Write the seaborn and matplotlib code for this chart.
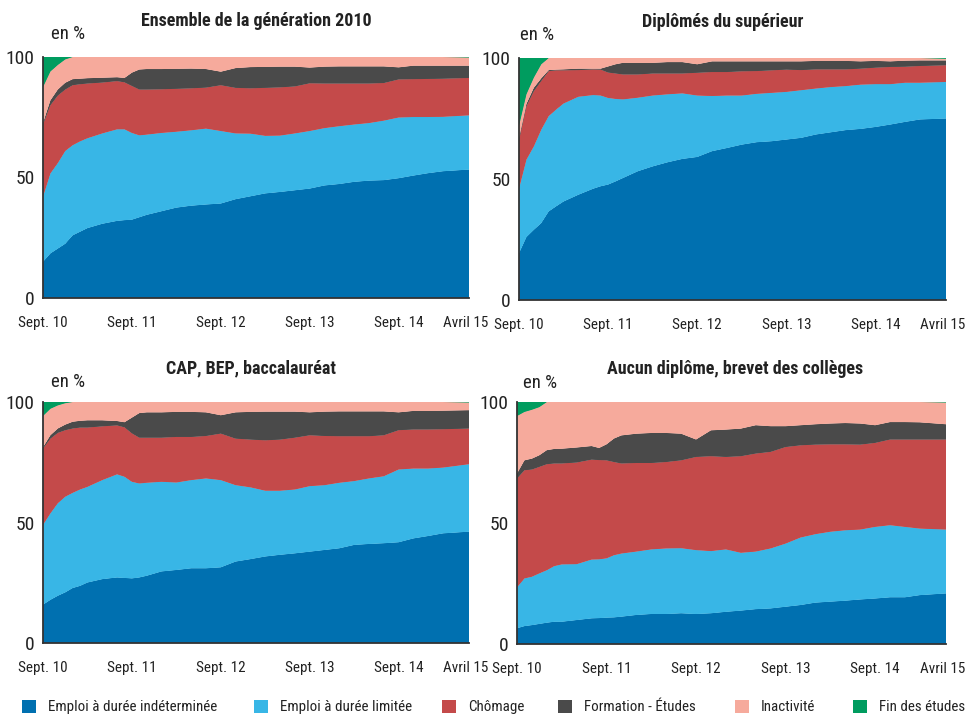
import numpy as np
import pandas as pd
import matplotlib
matplotlib.use("Agg")
import matplotlib.pyplot as plt
from matplotlib import font_manager as fm
from matplotlib.patches import Patch
import seaborn as sns
import seaborn.objects as so

# ---------------- data (shares in %) ----------------
months = [0, 1, 2, 3, 4, 5, 6, 8, 10, 11, 12, 13, 14, 16, 18, 20, 22, 24, 26, 28,
          30, 32, 34, 36, 38, 40, 42, 44, 46, 48, 50, 52, 54, 57.5]

statuts = ["Emploi à durée indéterminée", "Emploi à durée limitée", "Chômage",
           "Formation - Études", "Inactivité", "Fin des études"]
couleurs = ["#0070b0", "#38b6e6", "#c44a4a", "#4a4a4a", "#f6aa9c", "#009c5f"]

xtick_pos = [0, 12, 24, 36, 48, 57.0]
xtick_labels = ["Sept. 10", "Sept. 11", "Sept. 12", "Sept. 13", "Sept. 14", "Avril 15"]

# Ensemble de la génération 2010
ens_cdi = [15.0, 18.5, 20.5, 22.5, 26.0, 27.5, 29.0, 30.8, 32.0, 32.3, 32.5, 33.5, 34.5, 36.0, 37.5, 38.3, 38.8,
           39.2, 41.0, 42.2, 43.4, 44.0, 44.7, 45.4, 46.7, 47.3, 48.2, 48.7, 48.9, 49.7, 50.8, 51.8, 52.6, 53.3]
ens_cdd = [27.0, 33.2, 35.5, 38.5, 37.4, 37.5, 37.3, 37.5, 38.0, 37.7, 36.0, 34.0, 33.3, 32.5, 31.5, 31.3, 31.5,
           30.1, 27.3, 26.0, 23.9, 23.4, 23.6, 23.9, 23.8, 24.0, 23.8, 23.9, 24.7, 25.2, 24.3, 23.3, 22.6, 22.5]
ens_chom = [30.0, 28.3, 28.0, 25.5, 24.9, 23.7, 22.7, 21.1, 20.0, 19.5, 19.5, 19.0, 18.7, 18.1, 17.8, 17.4, 17.0,
            19.0, 18.9, 18.8, 19.9, 20.0, 19.5, 19.8, 18.5, 17.7, 17.0, 16.4, 15.6, 15.8, 15.7, 15.8, 15.8, 15.5]
ens_form = [0.6, 2.0, 2.5, 2.8, 2.5, 2.3, 2.2, 2.0, 1.6, 1.8, 5.5, 8.3, 8.5, 8.4, 8.3, 8.2, 7.7,
            5.6, 8.2, 8.8, 8.7, 8.6, 8.2, 6.5, 7.0, 7.1, 7.1, 7.1, 6.9, 5.0, 5.6, 5.5, 5.4, 5.1]
ens_inac = [14.9, 12.0, 10.2, 9.7, 9.2, 9.0, 8.8, 8.6, 8.4, 8.7, 6.5, 5.2, 5.0, 5.0, 4.9, 4.8, 5.0,
            6.1, 4.6, 4.2, 4.1, 4.0, 4.0, 4.4, 4.0, 3.9, 3.9, 3.9, 3.9, 4.3, 3.6, 3.6, 3.6, 3.4]
ens_fin = [12.5, 6.0, 3.3, 1.0, 0, 0, 0, 0, 0, 0, 0, 0, 0, 0, 0, 0, 0,
           0, 0, 0, 0, 0, 0, 0, 0, 0, 0, 0, 0, 0, 0, 0, 0, 0.2]

# Diplômés du supérieur
sup_cdi = [19.3, 26.0, 29.0, 31.8, 36.6, 38.7, 40.7, 43.5, 46.0, 47.0, 47.7, 49.0, 50.4, 53.2, 55.2, 56.9, 58.3,
           59.1, 61.5, 62.8, 64.2, 65.2, 65.6, 66.3, 67.0, 68.4, 69.3, 70.2, 70.7, 71.5, 72.5, 73.6, 74.6, 75.0]
sup_cdd = [26.7, 32.0, 34.5, 38.6, 39.4, 40.0, 40.5, 40.5, 38.7, 37.5, 35.8, 34.1, 32.5, 30.4, 29.3, 28.1, 27.1,
           25.4, 22.8, 21.7, 20.3, 20.0, 20.0, 19.7, 19.7, 19.0, 18.7, 18.2, 18.3, 17.7, 16.7, 16.2, 15.2, 15.1]
sup_chom = [20.0, 22.0, 22.8, 20.1, 18.6, 16.2, 13.7, 11.0, 10.6, 10.7, 10.5, 10.5, 10.3, 9.6, 9.1, 8.6, 8.2,
            9.4, 9.9, 9.7, 10.0, 9.4, 9.3, 9.2, 8.3, 7.9, 7.3, 6.9, 6.6, 6.8, 7.1, 6.6, 6.9, 6.9]
sup_form = [1.0, 1.0, 1.4, 1.1, 0.4, 0.3, 0.4, 0.6, 0.3, 0.4, 2.5, 3.8, 4.8, 4.8, 4.4, 4.7, 4.7,
            3.5, 4.4, 4.4, 4.1, 4.0, 3.7, 3.4, 3.6, 3.5, 3.5, 3.5, 3.0, 2.8, 2.3, 2.5, 2.3, 2.0]
sup_inac = [5.0, 4.0, 4.2, 5.8, 5.0, 4.8, 4.7, 4.4, 4.4, 4.4, 3.5, 2.6, 2.0, 2.0, 2.0, 1.7, 1.7,
            2.6, 1.4, 1.4, 1.4, 1.4, 1.4, 1.4, 1.4, 1.2, 1.2, 1.2, 1.4, 1.2, 1.4, 1.1, 1.0, 0.7]
sup_fin = [28.0, 15.0, 8.1, 2.6, 0, 0, 0, 0, 0, 0, 0, 0, 0, 0, 0, 0, 0,
           0, 0, 0, 0, 0, 0, 0, 0, 0, 0, 0, 0, 0, 0, 0, 0, 0.3]

# CAP, BEP, baccalauréat
cap_cdi = [15.9, 17.9, 19.6, 21.0, 22.8, 23.7, 25.1, 26.5, 27.2, 27.0, 26.8, 27.2, 27.9, 29.7, 30.3, 31.0, 31.0,
           31.4, 33.8, 34.8, 35.9, 36.6, 37.2, 37.9, 38.6, 39.3, 40.7, 41.1, 41.4, 41.8, 43.4, 44.4, 45.5, 46.2]
cap_cdd = [33.1, 35.9, 38.4, 39.7, 39.5, 40.0, 39.7, 41.1, 42.8, 42.0, 40.1, 39.0, 38.6, 37.2, 36.3, 36.6, 37.3,
           36.2, 31.7, 29.8, 27.3, 26.6, 26.5, 27.2, 26.9, 27.2, 26.5, 27.2, 27.8, 30.2, 29.0, 28.0, 27.3, 28.0]
cap_chom = [31.7, 31.0, 29.2, 27.6, 26.7, 25.7, 24.6, 22.3, 20.3, 20.5, 20.1, 19.0, 18.7, 18.3, 18.9, 17.9, 17.6,
            19.3, 19.3, 19.8, 20.9, 21.2, 21.5, 21.1, 20.4, 19.3, 18.6, 17.5, 17.0, 16.3, 16.2, 16.2, 15.9, 14.8]
cap_form = [0.5, 1.4, 1.8, 2.3, 2.8, 2.8, 3.0, 2.5, 1.8, 2.1, 6.5, 10.2, 10.5, 10.5, 10.4, 10.4, 9.8,
            7.6, 10.9, 11.5, 11.9, 11.6, 10.8, 9.5, 10.1, 10.3, 10.3, 10.3, 9.9, 7.4, 7.7, 7.7, 7.7, 7.6]
cap_inac = [13.0, 11.0, 9.6, 8.9, 8.2, 7.8, 7.6, 7.6, 7.9, 8.4, 6.5, 4.6, 4.3, 4.3, 4.1, 4.1, 4.3,
            5.5, 4.3, 4.1, 4.0, 4.0, 4.0, 4.3, 4.0, 3.9, 3.9, 3.9, 3.9, 4.3, 3.7, 3.7, 3.6, 3.2]
cap_fin = [5.8, 2.8, 1.4, 0.5, 0, 0, 0, 0, 0, 0, 0, 0, 0, 0, 0, 0, 0,
           0, 0, 0, 0, 0, 0, 0, 0, 0, 0, 0, 0, 0, 0, 0, 0, 0.2]

# Aucun diplôme, brevet des collèges
auc_cdi = [6.5, 7.4, 7.8, 8.3, 8.8, 9.2, 9.2, 9.9, 10.6, 10.7, 10.9, 11.0, 11.3, 12.0, 12.4, 12.4, 12.7,
           12.4, 12.7, 13.3, 13.8, 14.4, 14.7, 15.4, 16.1, 17.1, 17.5, 17.9, 18.4, 18.8, 19.3, 19.3, 20.2, 20.9]
auc_cdd = [16.9, 19.7, 20.0, 20.9, 21.7, 23.0, 23.7, 23.1, 24.3, 24.3, 24.5, 25.7, 26.1, 26.2, 26.7, 27.1, 26.9,
           26.4, 25.7, 25.8, 23.9, 23.8, 24.8, 26.1, 27.9, 28.3, 28.9, 29.1, 28.9, 29.6, 29.8, 29.1, 27.5, 26.4]
auc_chom = [45.0, 44.7, 44.3, 44.0, 43.8, 42.4, 41.7, 42.0, 41.3, 41.0, 40.5, 38.5, 37.2, 36.6, 35.7, 35.7, 36.3,
            38.5, 39.2, 38.2, 39.9, 40.5, 39.9, 39.9, 38.1, 37.0, 36.1, 35.5, 35.1, 34.7, 35.4, 36.1, 36.8, 37.2]
auc_form = [2.0, 4.1, 4.5, 4.8, 5.8, 6.0, 6.1, 6.2, 5.6, 5.0, 6.6, 9.7, 11.6, 12.1, 12.4, 12.0, 11.0,
            7.2, 10.7, 11.3, 11.4, 11.7, 10.6, 8.6, 8.3, 8.4, 8.6, 8.8, 8.7, 7.3, 7.2, 7.2, 7.1, 6.3]
auc_inac = [23.8, 20.0, 20.2, 19.9, 19.9, 19.4, 19.3, 18.8, 18.2, 19.0, 17.5, 15.1, 13.8, 13.1, 12.8, 12.8, 13.1,
            15.5, 11.7, 11.4, 11.0, 9.6, 10.0, 10.0, 9.6, 9.2, 8.9, 8.7, 8.9, 9.6, 8.3, 8.3, 8.4, 9.0]
auc_fin = [5.8, 4.1, 3.2, 2.1, 0, 0, 0, 0, 0, 0, 0, 0, 0, 0, 0, 0, 0,
           0, 0, 0, 0, 0, 0, 0, 0, 0, 0, 0, 0, 0, 0, 0, 0, 0.2]

titres = ["Ensemble de la génération 2010", "Diplômés du supérieur",
          "CAP, BEP, baccalauréat", "Aucun diplôme, brevet des collèges"]
panels = [
    (ens_cdi, ens_cdd, ens_chom, ens_form, ens_inac, ens_fin),
    (sup_cdi, sup_cdd, sup_chom, sup_form, sup_inac, sup_fin),
    (cap_cdi, cap_cdd, cap_chom, cap_form, cap_inac, cap_fin),
    (auc_cdi, auc_cdd, auc_chom, auc_form, auc_inac, auc_fin),
]

# ---------------- style ----------------
sns.set_theme(style="white")
names = {f.name for f in fm.fontManager.ttflist}
narrow = next((n for n in ["Liberation Sans Narrow", "Roboto Condensed", "Open Sans Condensed"] if n in names), None)
if narrow is None:
    narrow = "DejaVu Sans"
plt.rcParams['font.family'] = [narrow, 'DejaVu Sans']
TXT = "#222222"

W, H = 969, 716
fig = plt.figure(figsize=(W / 100, H / 100), dpi=100)
fig.patch.set_facecolor("white")

# axes boxes in pixels: left, top, right, bottom
boxes = [(43, 57, 469, 298), (519, 58, 946, 300), (43, 402, 469, 643), (517, 402, 946, 644)]
title_xy = [(256, 21), (723, 22), (251, 368), (735, 369)]
enpct_xy = [(51, 34), (520, 35), (51, 382), (523, 383)]

palette = dict(zip(statuts, couleurs))
theme_rc = {**sns.axes_style("white"), "font.family": [narrow, "DejaVu Sans"]}

for i, (vals, (l, t, r, b)) in enumerate(zip(panels, boxes)):
    ax = fig.add_axes([l / W, 1 - b / H, (r - l) / W, (b - t) / H])
    df = pd.DataFrame({
        "mois": np.tile(months, len(statuts)),
        "part": np.concatenate([np.asarray(v, float) for v in vals]),
        "statut": np.repeat(statuts, len(months)),
    })
    (so.Plot(df, x="mois", y="part", color="statut")
       .add(so.Area(alpha=1, edgewidth=0.6, edgealpha=1), so.Stack(), legend=False)
       .scale(color=palette)
       .theme(theme_rc)
       .on(ax)
       .plot())

    ax.set_xlim(0, 57.5)
    ax.set_ylim(0, 100)
    ax.set_xlabel("")
    ax.set_ylabel("")
    ax.set_facecolor("white")
    ax.grid(False)
    for s in ["top", "right"]:
        ax.spines[s].set_visible(False)
    for s in ["left", "bottom"]:
        ax.spines[s].set_color("#333333")
        ax.spines[s].set_linewidth(1.3)
        ax.spines[s].set_zorder(5)

    ax.set_xticks(xtick_pos, xtick_labels)
    ax.set_xticks([12, 24, 36, 48], minor=True)
    ax.tick_params(axis="x", which="major", length=0, pad=13, labelsize=10.9, labelcolor=TXT)
    ax.tick_params(axis="x", which="minor", length=5, width=1.2, direction="out", color="#333333", bottom=True)
    ax.set_yticks([0, 50, 100], ["0", "50", "100"])
    ax.set_yticks([50], minor=True)
    ax.tick_params(axis="y", which="major", length=0, pad=6, labelsize=14, labelcolor=TXT)
    ax.tick_params(axis="y", which="minor", length=5, width=1.2, direction="out", color="#333333", left=True)

    tx, ty = title_xy[i]
    fig.text(tx / W, 1 - ty / H, titres[i], ha="center", va="center",
             fontsize=13, fontweight="bold", color=TXT)
    ex, ey = enpct_xy[i]
    fig.text(ex / W, 1 - ey / H, "en %", ha="left", va="center", fontsize=13.5, color=TXT)

# legend, one entry per status
leg_x = [22, 254, 442, 558, 735, 853]
for name, col, x in zip(statuts, couleurs, leg_x):
    fig.legend(handles=[Patch(facecolor=col, edgecolor="none")], labels=[name],
               loc="center left", bbox_to_anchor=(x / W, 1 - 707 / H),
               frameon=False, fontsize=10.8, handlelength=0.95, handleheight=0.95,
               handletextpad=0.8, borderpad=0, borderaxespad=0, labelcolor=TXT)

fig.savefig("out.png", dpi=100, facecolor="white")
